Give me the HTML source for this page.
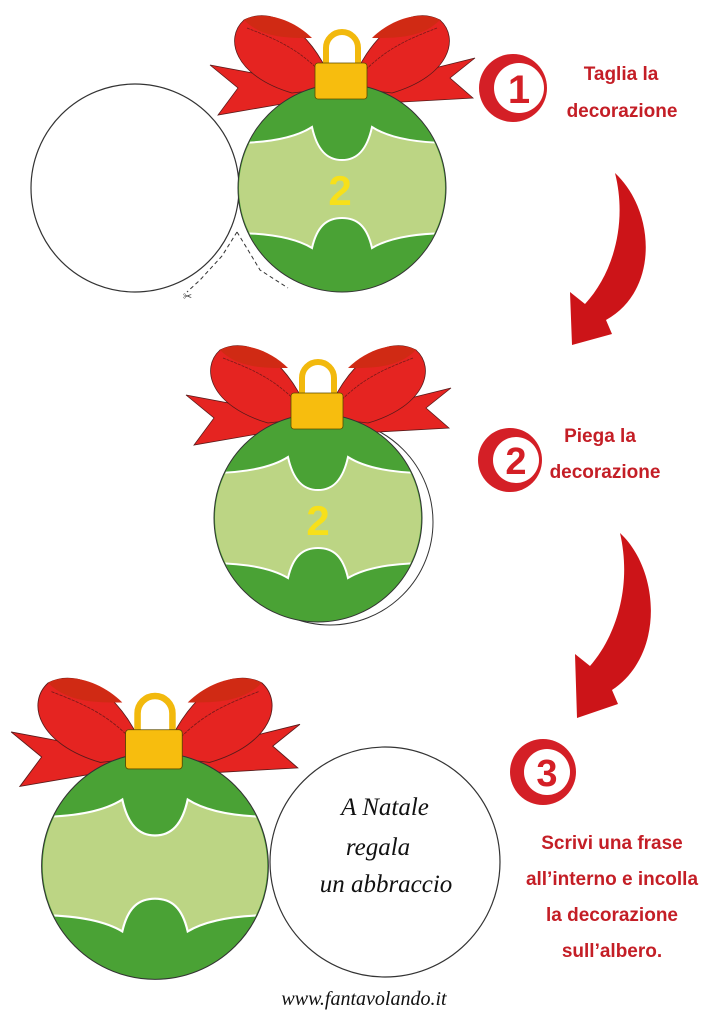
<!DOCTYPE html>
<html><head><meta charset="utf-8"><style>
html,body{margin:0;padding:0;background:#fff;width:724px;height:1024px;overflow:hidden}
svg{display:block}
.t{font-family:"Liberation Sans",sans-serif;font-weight:bold;fill:#c41e26;text-anchor:middle}
.h{font-family:"Liberation Serif",serif;font-style:italic;fill:#111;text-anchor:middle}
</style></head><body>
<svg width="724" height="1024" viewBox="0 0 724 1024" xmlns="http://www.w3.org/2000/svg">
<defs>
<clipPath id="bc"><circle cx="0" cy="0" r="103"/></clipPath>
<g id="orn">
  <!-- tails -->
  <path d="M-20,-102 L-132,-123 L-104,-100 L-124,-73 L-60,-84 L-5,-88 Z" fill="#e52421" stroke="#5a1a1a" stroke-width="0.8"/>
  <path d="M20,-102 L133,-130 L108,-110 L131,-90 L60,-86 L5,-88 Z" fill="#e52421" stroke="#5a1a1a" stroke-width="0.8"/>
  <!-- loops -->
  <path d="M-8,-100 C-25,-150 -65,-185 -98,-168 C-118,-150 -108,-112 -50,-95 Z" fill="#e52421" stroke="#5a1a1a" stroke-width="0.8"/>
  <path d="M8,-100 C25,-150 65,-185 98,-168 C118,-150 108,-112 50,-95 Z" fill="#e52421" stroke="#5a1a1a" stroke-width="0.8"/>
  <path d="M-98,-168 C-80,-178 -50,-170 -30,-150 C-55,-150 -80,-150 -98,-168 Z" fill="#d02a14"/>
  <path d="M98,-168 C80,-178 50,-170 30,-150 C55,-150 80,-150 98,-168 Z" fill="#d02a14"/>
  <path d="M-95,-160 C-70,-150 -40,-140 -12,-105 M95,-160 C70,-150 40,-140 12,-105" fill="none" stroke="#7a1a1a" stroke-width="0.8" stroke-dasharray="3,1"/>
  <!-- ball -->
  <circle cx="0" cy="0" r="104" fill="#4aa235" stroke="#333" stroke-width="1"/>
  <path clip-path="url(#bc)" d="M-110,-45 Q-55,-45 -30,-61 C-25,-38 -15,-28 0,-28 C15,-28 25,-38 30,-61 Q55,-45 110,-45 L110,45 Q55,45 30,60 C25,38 15,30 0,30 C-15,30 -25,38 -30,60 Q-55,45 -110,45 Z" fill="#bcd584" stroke="#fff" stroke-width="2"/>
  <!-- lock -->
  <path d="M-16,-91 L-16,-140 A13,13 0 0 1 16,-140 L16,-91" fill="none" stroke="#f2b90d" stroke-width="6"/>
  <rect x="-27" y="-125" width="52" height="36" rx="3" fill="#f7bd0e" stroke="#5a4a00" stroke-width="0.8"/>
</g>
</defs>

<!-- step 1 -->
<circle cx="135" cy="188" r="104" fill="#fff" stroke="#333" stroke-width="1.2"/>
<path d="M237,232 L248,250 L260,270 L288,288" fill="none" stroke="#333" stroke-width="1" stroke-dasharray="4,3"/>
<path d="M237,232 L222,256 L200,280 L187,292" fill="none" stroke="#333" stroke-width="1" stroke-dasharray="4,3"/>
<text x="183" y="300" font-size="11" fill="#333" font-family="DejaVu Sans">✂</text>
<use href="#orn" transform="translate(342,188)"/>
<text x="340" y="205" font-family="Liberation Sans" font-weight="bold" font-size="42" fill="#f7e01a" text-anchor="middle">2</text>

<!-- step 2 -->
<circle cx="330" cy="522" r="103" fill="#fff" stroke="#333" stroke-width="1"/>
<use href="#orn" transform="translate(318,518)"/>
<text x="318" y="535" font-family="Liberation Sans" font-weight="bold" font-size="42" fill="#f7e01a" text-anchor="middle">2</text>

<!-- step 3 -->
<circle cx="385" cy="862" r="115" fill="#fff" stroke="#333" stroke-width="1.2"/>
<use href="#orn" transform="translate(155,866) scale(1.09)"/>
<text class="h" x="385" y="815" font-size="25">A Natale</text>
<text class="h" x="378" y="855" font-size="25">regala</text>
<text class="h" x="386" y="892" font-size="25">un abbraccio</text>

<!-- arrows -->
<path d="M615,173 C655,210 660,290 606,320 L612,334 L572,345 L570,292 L585,304 C612,275 628,225 615,173 Z" fill="#cc1418"/>
<path d="M620,533 C660,570 665,655 612,690 L618,704 L577,718 L575,654 L590,666 C617,635 632,585 620,533 Z" fill="#cc1418"/>

<!-- step icons -->
<circle cx="513" cy="88" r="34" fill="#d41f26"/><circle cx="519" cy="88" r="25" fill="#fff"/>
<text x="519" y="103" font-family="Liberation Sans" font-weight="bold" font-size="40" fill="#d41f26" text-anchor="middle">1</text>
<circle cx="510" cy="460" r="32" fill="#d41f26"/><circle cx="516" cy="460" r="23" fill="#fff"/>
<text x="516" y="474" font-family="Liberation Sans" font-weight="bold" font-size="38" fill="#d41f26" text-anchor="middle">2</text>
<circle cx="543" cy="772" r="33" fill="#d41f26"/><circle cx="547" cy="772" r="23" fill="#fff"/>
<text x="547" y="786" font-family="Liberation Sans" font-weight="bold" font-size="38" fill="#d41f26" text-anchor="middle">3</text>

<!-- labels -->
<text class="t" x="621" y="80" font-size="19">Taglia la</text>
<text class="t" x="622" y="117" font-size="19">decorazione</text>
<text class="t" x="600" y="442" font-size="19">Piega la</text>
<text class="t" x="605" y="478" font-size="19">decorazione</text>
<text class="t" x="612" y="849" font-size="19">Scrivi una frase</text>
<text class="t" x="612" y="885" font-size="19">all’interno e incolla</text>
<text class="t" x="612" y="921" font-size="19">la decorazione</text>
<text class="t" x="612" y="957" font-size="19">sull’albero.</text>

<text x="364" y="1005" font-family="Liberation Serif" font-style="italic" font-size="20" fill="#111" text-anchor="middle">www.fantavolando.it</text>
</svg>
</body></html>
